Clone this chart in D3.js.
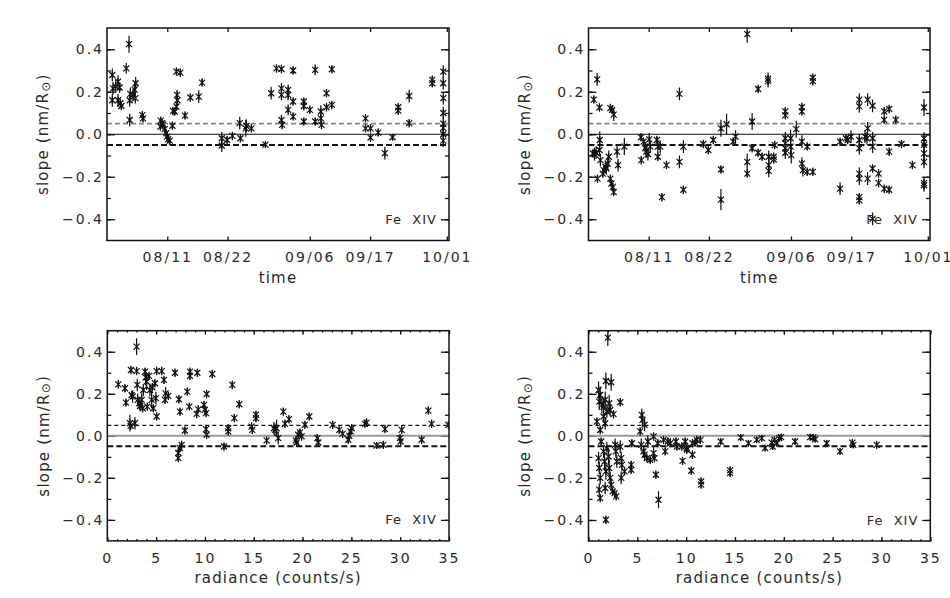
<!DOCTYPE html>
<html>
<head>
<meta charset="utf-8">
<title>Fe XIV slope</title>
<script src="https://d3js.org/d3.v7.min.js"></script>
<style>
  body { margin: 0; background: #fff; }
  svg text { font-family: "DejaVu Sans", sans-serif; fill: #2a2a2a; }
</style>
</head>
<body>
<div id="chart"></div>
<script>
// [days after 07/31, slope, error]
const timeSlopeA = [
  [0.97,0.279,0.03],[1.10,0.216,0.03],[1.58,0.225,0.03],[0.97,0.16,0.03],[2.01,0.248,0.03],
  [2.31,0.22,0.025],[2.01,0.16,0.03],[2.43,0.146,0.02],[2.62,0.133,0.02],[3.53,0.31,0.025],
  [4.02,0.424,0.04],[4.14,0.16,0.03],[4.26,0.19,0.03],[4.14,0.067,0.03],[4.75,0.185,0.03],
  [5.05,0.21,0.03],[5.23,0.24,0.03],[5.17,0.17,0.025],[6.45,0.09,0.02],[6.57,0.075,0.02],
  [9.74,0.036,0.02],[9.80,0.064,0.02],[10.10,0.052,0.02],[10.23,0.045,0.02],[10.53,0.024,0.02],
  [10.83,0.005,0.02],[10.96,-0.011,0.02],[11.14,-0.024,0.02],[11.44,-0.03,0.02],[11.93,0.04,0.02],
  [12.05,0.11,0.02],[12.36,0.107,0.02],[12.66,0.13,0.02],[12.84,0.16,0.025],[12.78,0.185,0.025],
  [12.66,0.295,0.02],[13.39,0.29,0.02],[14.24,0.088,0.02],[15.22,0.173,0.02],[16.74,0.177,0.03],
  [17.35,0.243,0.02],[20.94,-0.019,0.03],[20.94,-0.053,0.03],[21.91,-0.027,0.02],[22.88,-0.008,0.02],
  [24.22,0.052,0.03],[24.35,-0.019,0.02],[25.32,0.028,0.04],[25.44,0.039,0.03],[26.35,0.028,0.02],
  [28.91,-0.049,0.015],[29.95,0.193,0.03],[30.92,0.31,0.02],[31.83,0.307,0.02],[31.83,0.216,0.025],
  [31.83,0.185,0.025],[31.83,0.067,0.025],[31.95,0.044,0.02],[33.05,0.209,0.025],[33.05,0.185,0.025],
  [33.05,0.115,0.025],[33.96,0.30,0.02],[33.96,0.154,0.02],[33.96,0.083,0.02],[35.91,0.154,0.02],
  [35.91,0.133,0.02],[35.91,0.06,0.02],[37.01,0.115,0.02],[37.98,0.303,0.025],[37.98,0.06,0.02],
  [39.01,0.075,0.03],[39.01,0.107,0.03],[39.14,0.044,0.02],[40.05,0.193,0.02],[40.05,0.127,0.02],
  [41.02,0.306,0.02],[41.02,0.138,0.02],[47.17,0.075,0.02],[47.17,0.028,0.02],[48.08,0.028,0.02],
  [48.08,-0.016,0.02],[49.48,0.008,0.02],[50.70,-0.089,0.03],[52.10,-0.014,0.015],[53.13,0.127,0.02],
  [53.13,0.111,0.02],[55.14,0.18,0.03],[55.14,0.052,0.02],[59.34,0.256,0.02],[59.34,0.24,0.02],
  [61.35,0.295,0.03],[61.35,0.24,0.03],[61.35,0.17,0.03],[61.35,0.10,0.03],[61.35,0.05,0.03],
  [61.35,0.03,0.03],[61.35,0.0,0.03],[61.35,-0.03,0.03]
];

const timeSlopeB = [
  [0.97,0.163,0.02],[0.79,-0.09,0.02],[1.09,-0.093,0.03],[1.39,-0.087,0.03],[1.58,0.258,0.03],
  [1.64,-0.209,0.02],[2.00,0.126,0.02],[2.06,-0.027,0.04],[2.00,-0.074,0.03],[2.18,-0.122,0.03],
  [2.61,-0.185,0.02],[2.79,-0.169,0.02],[3.09,-0.153,0.03],[3.27,-0.161,0.03],[3.52,-0.138,0.03],
  [3.70,-0.106,0.03],[4.00,0.123,0.02],[4.31,0.115,0.02],[4.61,0.092,0.03],[4.00,-0.209,0.02],
  [4.18,-0.232,0.02],[4.43,-0.248,0.02],[4.61,-0.272,0.02],[5.22,-0.082,0.03],[5.40,-0.145,0.03],
  [6.55,-0.058,0.04],[9.58,-0.014,0.02],[9.64,-0.122,0.02],[10.07,-0.035,0.02],[10.37,-0.066,0.03],
  [10.55,-0.082,0.03],[10.86,-0.093,0.03],[11.10,-0.024,0.03],[11.28,-0.058,0.03],[12.49,-0.027,0.02],
  [12.67,-0.058,0.03],[12.67,-0.106,0.02],[13.10,-0.058,0.03],[13.40,-0.296,0.02],[14.25,-0.145,0.02],
  [16.62,0.19,0.03],[16.62,-0.13,0.03],[17.34,-0.058,0.03],[17.34,-0.261,0.02],[20.98,-0.046,0.02],
  [21.89,-0.074,0.02],[22.80,-0.027,0.02],[24.20,0.028,0.04],[24.20,-0.166,0.02],[24.20,-0.308,0.05],
  [25.23,0.047,0.05],[26.44,-0.035,0.02],[26.87,-0.011,0.03],[29.00,0.471,0.04],[29.00,-0.13,0.04],
  [29.00,-0.185,0.02],[29.90,0.06,0.04],[29.90,-0.066,0.02],[30.99,0.213,0.02],[30.99,-0.087,0.02],
  [31.72,-0.106,0.02],[32.81,0.261,0.03],[32.81,0.25,0.03],[32.93,-0.106,0.03],[32.93,-0.145,0.03],
  [32.93,-0.172,0.03],[33.84,-0.106,0.02],[33.84,-0.119,0.02],[34.02,-0.051,0.02],[35.96,0.108,0.02],
  [35.96,0.089,0.02],[35.96,-0.019,0.03],[35.96,-0.043,0.03],[35.96,-0.066,0.03],[35.96,-0.087,0.03],
  [36.93,-0.019,0.04],[36.93,-0.058,0.04],[37.05,-0.098,0.04],[37.96,0.024,0.04],[38.99,0.128,0.02],
  [38.99,0.108,0.02],[38.99,-0.035,0.03],[38.99,-0.138,0.03],[39.17,-0.169,0.03],[39.96,-0.058,0.02],
  [39.96,-0.177,0.02],[40.99,0.266,0.02],[40.99,0.25,0.02],[40.99,-0.177,0.02],[45.97,-0.035,0.02],
  [45.97,-0.256,0.03],[47.06,-0.019,0.02],[47.36,-0.027,0.02],[47.97,-0.011,0.03],[49.48,0.163,0.03],
  [49.48,0.131,0.03],[49.48,-0.027,0.03],[49.48,-0.066,0.03],[49.48,-0.185,0.03],[49.48,-0.209,0.03],
  [49.48,-0.296,0.02],[49.48,-0.311,0.02],[50.52,-0.011,0.03],[50.88,-0.019,0.03],[51.00,0.028,0.03],
  [51.00,0.163,0.03],[51.00,-0.209,0.03],[51.91,0.134,0.03],[51.91,-0.019,0.03],[51.91,-0.058,0.03],
  [51.91,-0.161,0.02],[51.91,-0.398,0.03],[53.00,-0.185,0.02],[53.00,-0.229,0.02],[54.03,0.108,0.02],
  [54.03,0.068,0.02],[54.03,-0.256,0.02],[54.94,0.119,0.02],[54.94,-0.082,0.02],[54.94,-0.261,0.02],
  [56.15,0.068,0.02],[57.19,-0.046,0.02],[59.19,-0.145,0.02],[61.31,0.126,0.04],[61.31,-0.02,0.03],
  [61.31,-0.05,0.03],[61.31,-0.09,0.03],[61.31,-0.13,0.03],[61.31,-0.23,0.03],[61.31,-0.24,0.03]
];

// [radiance (counts/s), slope, error]
const radSlopeA = [
  [1.13,0.245,0.02],[1.81,0.226,0.02],[1.91,0.158,0.02],[2.32,0.06,0.04],[2.39,0.047,0.02],
  [2.42,0.313,0.02],[2.49,0.194,0.02],[2.59,0.187,0.03],[2.83,0.06,0.03],[3.00,0.308,0.02],
  [3.00,0.424,0.04],[3.07,0.242,0.03],[3.11,0.171,0.03],[3.28,0.155,0.03],[3.35,0.142,0.02],
  [3.52,0.171,0.03],[3.62,0.131,0.02],[3.69,0.218,0.03],[3.86,0.305,0.02],[3.93,0.278,0.04],
  [4.03,0.258,0.04],[4.10,0.139,0.02],[4.27,0.285,0.02],[4.37,0.218,0.03],[4.54,0.171,0.04],
  [4.61,0.231,0.02],[4.71,0.131,0.02],[4.88,0.25,0.02],[4.98,0.179,0.03],[5.05,0.308,0.02],
  [5.05,0.092,0.02],[5.57,0.308,0.02],[5.80,0.266,0.02],[5.91,0.171,0.02],[5.97,0.202,0.03],
  [6.25,0.19,0.02],[6.93,0.30,0.02],[7.27,-0.082,0.03],[7.27,-0.106,0.02],[7.34,0.174,0.02],
  [7.44,0.115,0.02],[7.44,-0.058,0.02],[7.61,-0.043,0.02],[7.95,0.025,0.02],[8.19,0.21,0.02],
  [8.40,0.139,0.02],[8.47,0.305,0.02],[8.47,0.285,0.02],[9.15,0.104,0.02],[9.22,0.30,0.02],
  [9.32,0.126,0.02],[9.90,0.147,0.02],[10.00,0.123,0.02],[10.11,0.108,0.02],[10.17,0.199,0.02],
  [10.11,0.032,0.02],[10.17,0.005,0.02],[10.75,0.294,0.02],[11.95,-0.051,0.02],[12.39,0.036,0.02],
  [12.39,0.021,0.02],[12.80,0.242,0.02],[13.01,0.084,0.02],[13.52,0.15,0.02],[14.78,0.044,0.02],
  [14.85,0.028,0.02],[15.23,0.10,0.02],[15.23,0.084,0.02],[16.32,-0.022,0.02],[17.07,0.036,0.03],
  [17.17,0.028,0.03],[17.34,0.036,0.04],[17.51,-0.011,0.03],[18.03,0.115,0.02],[18.20,0.057,0.02],
  [18.61,0.079,0.02],[19.32,-0.022,0.02],[19.39,-0.032,0.02],[19.56,0.005,0.02],[19.73,0.016,0.02],
  [19.90,-0.003,0.02],[20.24,0.052,0.02],[20.69,0.092,0.02],[21.51,-0.011,0.02],[21.61,-0.032,0.02],
  [23.08,0.052,0.02],[23.76,0.028,0.02],[24.10,0.009,0.02],[24.68,-0.019,0.02],[24.79,0.0,0.02],
  [24.92,0.021,0.02],[25.03,0.036,0.02],[26.39,0.057,0.02],[26.56,0.063,0.02],[27.59,-0.046,0.015],
  [28.27,-0.043,0.02],[28.44,0.032,0.02],[29.98,-0.011,0.02],[30.04,-0.027,0.02],[30.15,0.028,0.02],
  [32.20,-0.019,0.02],[32.88,0.12,0.02],[33.22,0.057,0.02],[34.93,0.052,0.02]
];

const radSlopeB = [
  [1.98,0.467,0.04],[1.78,0.261,0.04],[2.32,0.255,0.04],[1.03,0.218,0.04],[1.20,0.195,0.04],
  [1.10,0.163,0.04],[1.37,0.147,0.04],[1.54,0.139,0.04],[1.71,0.171,0.04],[1.88,0.116,0.03],
  [2.12,0.155,0.04],[2.22,0.123,0.03],[2.56,0.103,0.02],[3.25,0.16,0.02],[0.86,0.068,0.02],
  [1.20,0.028,0.02],[1.54,0.092,0.03],[1.71,0.06,0.03],[1.30,-0.027,0.02],[1.03,-0.106,0.03],
  [1.10,-0.153,0.03],[1.20,-0.2,0.03],[1.10,-0.256,0.03],[1.20,-0.296,0.02],[1.54,-0.074,0.03],
  [1.64,-0.122,0.04],[1.78,-0.169,0.04],[1.71,-0.248,0.03],[1.88,-0.059,0.03],[2.05,-0.098,0.04],
  [2.12,-0.153,0.04],[2.22,-0.2,0.03],[2.32,-0.233,0.03],[2.46,-0.264,0.02],[2.67,-0.272,0.02],
  [2.84,-0.288,0.02],[1.78,-0.399,0.02],[2.73,-0.043,0.03],[2.80,-0.074,0.03],[2.90,-0.122,0.03],
  [3.25,-0.051,0.03],[3.35,-0.106,0.03],[3.42,-0.138,0.03],[3.35,-0.2,0.03],[3.69,-0.169,0.02],
  [4.37,-0.138,0.02],[4.37,-0.161,0.02],[4.44,-0.035,0.02],[5.29,0.021,0.02],[5.46,0.10,0.03],
  [5.53,0.076,0.03],[5.74,0.052,0.03],[5.40,-0.043,0.03],[5.63,-0.074,0.03],[5.74,-0.09,0.03],
  [6.08,-0.027,0.03],[5.98,-0.106,0.02],[6.32,-0.114,0.02],[6.66,-0.003,0.02],[6.66,-0.082,0.03],
  [6.76,-0.106,0.02],[6.90,-0.185,0.02],[7.17,-0.304,0.04],[7.10,-0.035,0.02],[7.68,-0.019,0.02],
  [7.85,-0.074,0.02],[8.13,-0.027,0.02],[8.37,-0.035,0.02],[8.95,-0.027,0.02],[9.05,-0.051,0.02],
  [9.63,-0.119,0.02],[9.90,-0.027,0.02],[10.07,-0.066,0.02],[10.52,-0.166,0.02],[10.65,-0.035,0.02],
  [9.55,-0.051,0.02],[10.06,-0.058,0.02],[10.64,-0.09,0.02],[10.92,-0.032,0.02],[11.09,-0.019,0.02],
  [11.46,-0.019,0.02],[11.53,-0.217,0.02],[11.53,-0.232,0.02],[13.54,-0.027,0.015],[14.50,-0.164,0.02],
  [14.50,-0.177,0.02],[15.59,-0.008,0.015],[16.38,-0.035,0.015],[17.23,-0.019,0.015],[17.74,-0.011,0.015],
  [18.08,-0.058,0.015],[18.76,-0.032,0.015],[18.87,-0.051,0.015],[19.04,-0.019,0.015],[19.28,-0.035,0.015],
  [19.52,-0.011,0.015],[19.72,-0.006,0.015],[21.15,-0.027,0.015],[22.69,-0.006,0.015],[23.03,-0.008,0.015],
  [23.20,-0.016,0.015],[24.39,-0.035,0.015],[25.76,-0.074,0.015],[27.02,-0.032,0.015],[27.12,-0.043,0.015],
  [29.51,-0.043,0.02]
];

const slopeTicks = [-0.4, -0.2, 0, 0.2, 0.4];
const slopeMinor = [-0.4, -0.3, -0.2, -0.1, 0, 0.1, 0.2, 0.3, 0.4];
const refLevels = [0, 0.05, -0.05];
const timeTicks = ["08/11", "08/22", "09/06", "09/17", "10/01"];
const radianceTicks = [0, 5, 10, 15, 20, 25, 30, 35];

const W = 950, H = 598;
const base = new Date(2000, 6, 31);
const toDate = d => new Date(+base + d * 864e5);
const parseTick = d3.timeParse("%Y/%m/%d");

const svg = d3.select('#chart').append('svg')
    .attr('width', W)
    .attr('height', H);

const panels = [
  {data: timeSlopeA, kind: 'time', left: 107, top: 28, w: 342, h: 212.5, row: 0},
  {data: timeSlopeB, kind: 'time', left: 588.5, top: 28, w: 341.5, h: 212.5, row: 0},
  {data: radSlopeA, kind: 'rad', left: 107.3, top: 330.7, w: 341.7, h: 210.2, row: 1},
  {data: radSlopeB, kind: 'rad', left: 588.5, top: 330.7, w: 341.8, h: 210.3, row: 1}
];

function asterisk(cx, cy) {
  const r = 3, p = d3.path();
  p.moveTo(cx - r, cy - r); p.lineTo(cx + r, cy + r);
  p.moveTo(cx - r, cy + r); p.lineTo(cx + r, cy - r);
  p.moveTo(cx, cy - r - 0.5); p.lineTo(cx, cy + r + 0.5);
  return p.toString();
}

panels.forEach((p, i) => {
  const g = svg.append('g').attr('transform', `translate(${p.left},${p.top})`);

  const y = d3.scaleLinear().domain([-0.5, 0.5]).range([p.h, 0]);
  const x = p.kind === 'time'
    ? d3.scaleTime().domain([toDate(0), toDate(62.4)]).range([0, p.w])
    : d3.scaleLinear().domain([0, 35]).range([0, p.w]);
  const xv = d => p.kind === 'time' ? x(toDate(d)) : x(d);

  // y axes, left with labels, right ticks only
  g.append('g')
      .call(d3.axisLeft(y).tickValues(slopeMinor).tickSize(-4).tickFormat(''))
      .call(a => a.select('.domain').remove());
  g.append('g')
      .call(d3.axisLeft(y).tickValues(slopeTicks).tickSize(-8).tickPadding(3)
        .tickFormat(d3.format('.1f')))
      .call(a => a.select('.domain').remove());
  g.append('g')
      .attr('transform', `translate(${p.w},0)`)
      .call(d3.axisRight(y).tickValues(slopeMinor).tickSize(-4).tickFormat(''))
      .call(a => a.select('.domain').remove());
  g.append('g')
      .attr('transform', `translate(${p.w},0)`)
      .call(d3.axisRight(y).tickValues(slopeTicks).tickSize(-8).tickFormat(''))
      .call(a => a.select('.domain').remove());

  // x axes
  if (p.kind === 'time') {
    const dates = timeTicks.map(s => parseTick('2000/' + s));
    g.append('g')
        .attr('transform', `translate(0,${p.h})`)
        .call(d3.axisBottom(x).tickValues(dates).tickSize(-4).tickPadding(12)
          .tickFormat(d3.timeFormat('%m/%d')))
        .call(a => a.select('.domain').remove());
    g.append('g')
        .call(d3.axisTop(x).tickValues(dates).tickSize(-4).tickFormat(''))
        .call(a => a.select('.domain').remove());
  } else {
    const minor = d3.range(0, 36, 1);
    g.append('g')
        .attr('transform', `translate(0,${p.h})`)
        .call(d3.axisBottom(x).tickValues(minor).tickSize(-1.8).tickFormat(''))
        .call(a => a.select('.domain').remove());
    g.append('g')
        .attr('transform', `translate(0,${p.h})`)
        .call(d3.axisBottom(x).tickValues(radianceTicks).tickSize(-4).tickPadding(12)
          .tickFormat(d3.format('d')))
        .call(a => a.select('.domain').remove());
    g.append('g')
        .call(d3.axisTop(x).tickValues(minor).tickSize(-1.8).tickFormat(''))
        .call(a => a.select('.domain').remove());
    g.append('g')
        .call(d3.axisTop(x).tickValues(radianceTicks).tickSize(-4).tickFormat(''))
        .call(a => a.select('.domain').remove());
  }

  g.selectAll('.tick line').attr('stroke', '#111').attr('stroke-width', 1.3);
  g.selectAll('.tick text')
      .attr('font-size', 14)
      .attr('letter-spacing', 2)
      .attr('fill', '#2a2a2a');

  // reference lines
  const refStyle = p.row === 0
    ? [{c: '#111', w: 1, d: null}, {c: '#888', w: 1.6, d: '5,3'}, {c: '#111', w: 2, d: '6,3'}]
    : [{c: '#999', w: 2, d: null}, {c: '#111', w: 1.2, d: '4,3'}, {c: '#111', w: 2, d: '6,3'}];
  refLevels.forEach((v, k) => {
    g.append('line')
        .attr('x1', 0).attr('x2', p.w)
        .attr('y1', y(v)).attr('y2', y(v))
        .attr('stroke', refStyle[k].c)
        .attr('stroke-width', refStyle[k].w)
        .attr('stroke-dasharray', refStyle[k].d);
  });

  // clip
  svg.append('clipPath').attr('id', 'clip' + i)
    .append('rect').attr('width', p.w).attr('height', p.h);
  const pts = g.append('g').attr('clip-path', `url(#clip${i})`);

  pts.selectAll('line.err')
    .data(p.data)
    .join('line')
      .attr('class', 'err')
      .attr('x1', d => xv(d[0])).attr('x2', d => xv(d[0]))
      .attr('y1', d => y(d[1] - d[2])).attr('y2', d => y(d[1] + d[2]))
      .attr('stroke', '#111').attr('stroke-width', 1.2);
  pts.selectAll('path.star')
    .data(p.data)
    .join('path')
      .attr('class', 'star')
      .attr('d', d => asterisk(xv(d[0]), y(d[1])))
      .attr('fill', 'none')
      .attr('stroke', '#111').attr('stroke-width', 1.2);

  // frame
  g.append('rect')
      .attr('width', p.w).attr('height', p.h)
      .attr('fill', 'none').attr('stroke', '#111').attr('stroke-width', 1.5);

  // labels
  g.append('text')
      .attr('x', p.w - 12).attr('y', y(-0.4))
      .attr('dy', '0.35em')
      .attr('text-anchor', 'end')
      .attr('font-size', 13)
      .attr('letter-spacing', 1)
      .style('white-space', 'pre')
      .text('Fe  XIV');

  g.append('text')
      .attr('x', p.w / 2).attr('y', p.h + 42)
      .attr('text-anchor', 'middle')
      .attr('font-size', 15)
      .attr('letter-spacing', 1.2)
      .text(p.kind === 'time' ? 'time' : 'radiance (counts/s)');

  const yt = g.append('text')
      .attr('transform', `translate(-64,${p.h / 2}) rotate(-90)`)
      .attr('dy', '0.35em')
      .attr('text-anchor', 'middle')
      .attr('font-size', 15)
      .attr('letter-spacing', 1.2);
  yt.append('tspan').text('slope (nm/R');
  yt.append('tspan').attr('font-size', 12).attr('dy', '0.15em').text('⊙');
  yt.append('tspan').attr('dy', '-0.15em').text(')');
});
</script>
</body>
</html>
